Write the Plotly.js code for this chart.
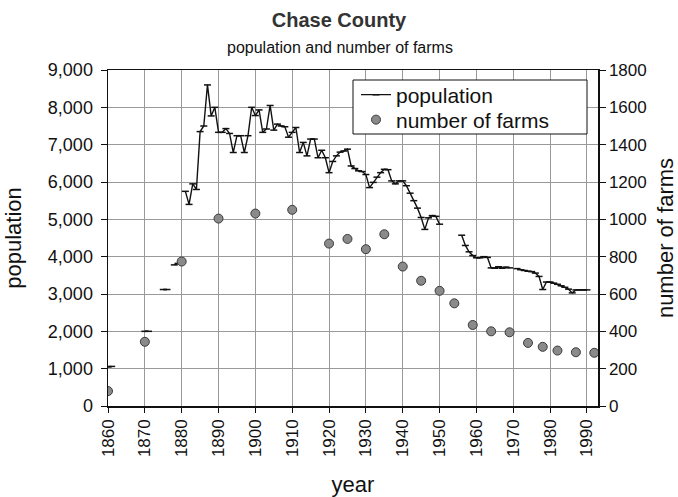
<!DOCTYPE html>
<html>
<head>
<meta charset="utf-8">
<script src="https://cdn.plot.ly/plotly-3.0.1.min.js"></script>
<style>html,body{margin:0;padding:0;background:#fff;}#chart{width:678px;height:497px;}</style>
</head>
<body>
<div id="chart"></div>
<script>
// Population (annual, gaps as null)
var popYears = [1860,1861,1862,
  1870,1871,1872,
  1875,1876,1877,
  1878,1879,1880,1880.5,
  1881,1882,1883,1884,1885,1886,1887,1888,1889,
  1890,1891,1892,1893,1894,1895,1896,1897,1898,1899,
  1900,1901,1902,1903,1904,1905,1906,1907,1908,1909,
  1910,1911,1912,1913,1914,1915,1916,1917,1918,1919,
  1920,1921,1922,1923,1924,1925,1926,1927,1928,1929,
  1930,1931,1932,1933,1934,1935,1936,1937,1938,1939,
  1940,1941,1942,1943,1944,1945,1946,1947,1948,1949,
  1950,1953,
  1956,1957,1958,1959,
  1960,1961,1962,1963,1964,1965,1966,1967,1968,1969,
  1970,1971,1972,1973,1974,1975,1976,1977,1978,1979,
  1980,1981,1982,1983,1984,1985,1986,1987,1988,1989,
  1990];
var popValues = [1050,1060,null,
  2000,2000,null,
  3120,3120,null,
  3780,3820,3870,null,
  5750,5400,5950,5800,7350,7500,8600,7770,8000,
  7330,7330,7430,7300,6790,7240,7240,6790,7240,8000,
  7780,7930,7330,7420,8050,7390,7550,7500,7480,7200,
  7330,7460,6790,7060,6700,7150,7150,6650,6850,6650,
  6250,6550,6700,6800,6830,6880,6430,6360,6300,6280,
  6200,5850,5990,6130,6250,6340,6330,6030,5950,6030,
  6030,5900,5700,5500,5300,5050,4730,5040,5100,5080,
  4870,null,
  4575,4300,4130,4030,
  3970,3970,4000,3980,3700,3690,3730,3690,3720,3700,
  null,3680,3650,3630,3610,3600,3560,3470,3120,3320,
  3320,3290,3260,3220,3180,3130,3030,3110,3110,3110,
  3110];

// Number of farms (census years)
var farmYears = [1860,1870,1880,1890,1900,1910,1920,1925,1930,1935,1940,1945,1950,1954,1959,1964,1969,1974,1978,1982,1987,1992];
var farmValues = [80,344,774,1004,1031,1051,870,895,840,920,747,671,617,550,434,400,395,338,317,297,288,285];

var xTicks = [1860,1870,1880,1890,1900,1910,1920,1930,1940,1950,1960,1970,1980,1990];

var FONT = "Liberation Sans, Arial, sans-serif";
var legendFont = {family: FONT, size: 21, color: '#111'};

var traces = [
  {
    x: popYears, y: popValues, name: 'population', type: 'scatter', mode: 'lines+markers',
    connectgaps: false, legend: 'legend',
    line: {color: '#111', width: 1.4},
    marker: {symbol: 'line-ew-open', size: 5, color: '#111', line: {color: '#111', width: 1.5}},
    yaxis: 'y'
  },
  {
    x: farmYears, y: farmValues, name: 'number of farms', type: 'scatter', mode: 'markers',
    legend: 'legend2',
    marker: {symbol: 'circle', size: 9, color: '#8a8a8a', line: {color: '#3a3a3a', width: 1}},
    yaxis: 'y2'
  }
];

var layout = {
  width: 678, height: 497,
  margin: {l: 108, r: 80, t: 70, b: 91},
  paper_bgcolor: '#fff', plot_bgcolor: '#fff',
  font: {family: FONT, color: '#111'},
  title: {text: '<b>Chase County</b>', font: {family: FONT, size: 20, color: '#333'},
    x: 0.5, xanchor: 'center', xref: 'container', y: 1 - 20/497, yanchor: 'middle'},
  annotations: [{
    text: 'population and number of farms', xref: 'paper', yref: 'paper',
    x: (340 - 108) / 490, y: (406 - 47) / 336, xanchor: 'center', yanchor: 'middle', showarrow: false,
    font: {family: FONT, size: 16, color: '#111'}
  }],
  shapes: [{
    type: 'rect', xref: 'paper', yref: 'paper', layer: 'above',
    x0: (353 - 108) / 490, x1: (587 - 108) / 490,
    y0: (406 - 134) / 336, y1: (406 - 80) / 336,
    fillcolor: '#fff', line: {color: '#111', width: 1}
  }],
  showlegend: true,
  legend: {
    x: (356 - 108) / 490, xanchor: 'left', y: (406 - 95) / 336, yanchor: 'middle',
    bgcolor: 'rgba(0,0,0,0)', borderwidth: 0, itemwidth: 30, font: legendFont
  },
  legend2: {
    x: (356 - 108) / 490, xanchor: 'left', y: (406 - 120) / 336, yanchor: 'middle',
    bgcolor: 'rgba(0,0,0,0)', borderwidth: 0, itemwidth: 30, font: legendFont
  },
  xaxis: {
    range: [1860, 1993], tickvals: xTicks, ticktext: xTicks.map(String),
    tickangle: -90, tickfont: {family: FONT, size: 17, color: '#111'},
    ticks: 'outside', ticklen: 5, tickcolor: '#111',
    showgrid: true, gridcolor: '#9a9a9a', gridwidth: 1,
    showline: true, linecolor: '#111', linewidth: 1.5, mirror: true,
    zeroline: false, automargin: false,
    title: {text: 'year', font: {family: FONT, size: 22, color: '#111'}, standoff: 22}
  },
  yaxis: {
    range: [0, 9000], dtick: 1000, tickformat: ',d',
    tickfont: {family: FONT, size: 18, color: '#111'},
    ticks: 'outside', ticklen: 6, tickcolor: '#111', ticklabelstandoff: 4,
    showgrid: true, gridcolor: '#9a9a9a', gridwidth: 1,
    showline: true, linecolor: '#111', linewidth: 1.5,
    zeroline: false, automargin: false,
    title: {text: 'population', font: {family: FONT, size: 22, color: '#111'}, standoff: 20}
  },
  yaxis2: {
    range: [0, 1800], dtick: 200, tickformat: 'd', overlaying: 'y', side: 'right',
    tickfont: {family: FONT, size: 17, color: '#111'},
    ticks: 'outside', ticklen: 6, tickcolor: '#111',
    showgrid: false, showline: true, linecolor: '#111', linewidth: 1.5,
    zeroline: false, automargin: false,
    title: {text: 'number of farms', font: {family: FONT, size: 22, color: '#111'}, standoff: 18}
  }
};

Plotly.newPlot('chart', traces, layout, {displayModeBar: false, staticPlot: true});
</script>
</body>
</html>
